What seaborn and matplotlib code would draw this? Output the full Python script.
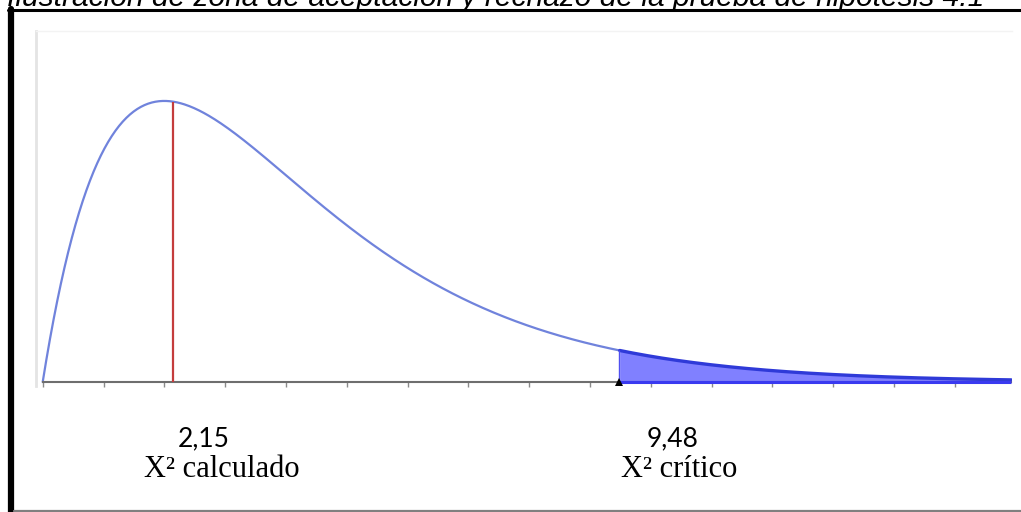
import numpy as np
import pandas as pd
import matplotlib
matplotlib.use("Agg")
import matplotlib.pyplot as plt
import seaborn as sns
from matplotlib.lines import Line2D

# ---- data ----
degrees_of_freedom = 4
chi2_calculated = 2.15
chi2_critical = 9.48
x_start, x_end = 0.0, 15.93
tick_positions = list(range(0, 16))
label_calc_value = "2,15"
label_calc_text = "X² calculado"
label_crit_value = "9,48"
label_crit_text = "X² crítico"
title_text = "Ilustración de zona de aceptación y rechazo de la prueba de hipótesis 4.1"


def chi2_pdf(x, k):
    from math import gamma
    x = np.asarray(x, dtype=float)
    return np.where(x > 0, x ** (k / 2 - 1) * np.exp(-x / 2) / (2 ** (k / 2) * gamma(k / 2)), 0.0)


xs = np.linspace(x_start, x_end, 800)
df_curve = pd.DataFrame({"x": xs, "density": chi2_pdf(xs, degrees_of_freedom)})
df_tail = df_curve[df_curve["x"] >= chi2_critical]
df_body = df_curve[df_curve["x"] <= chi2_critical]

sns.set_style("white")

W, H = 1021, 512
fig = plt.figure(figsize=(W / 100, H / 100), dpi=100)

# axes placement in pixels
px_left, px_right, px_top, px_bottom = 36, 1012, 31, 386
ax = fig.add_axes([px_left / W, (H - px_bottom) / H, (px_right - px_left) / W, (px_bottom - px_top) / H])

x0_px, unit_px = 42.7, 60.8
base_px, yscale = 382, 1528.0
ax.set_xlim((px_left - x0_px) / unit_px, (px_right - x0_px) / unit_px)
ax.set_ylim((base_px - px_bottom) / yscale, (base_px - px_top) / yscale)

# body curve
sns.lineplot(data=df_body, x="x", y="density", ax=ax, color="#7083dc", linewidth=1.6)
# tail fill
ax.fill_between(df_tail["x"], df_tail["density"], 0, color="#8080ff", linewidth=0)
sns.lineplot(data=df_tail, x="x", y="density", ax=ax, color="#2f3ad8", linewidth=2.4)
ax.hlines(0, chi2_critical, x_end, color="#3a3af0", linewidth=2.2, zorder=4)
ax.vlines(chi2_critical, 0, chi2_pdf(chi2_critical, degrees_of_freedom), color="#5050f0", linewidth=1.0)

# calculated value line
ax.vlines(chi2_calculated, 0, chi2_pdf(chi2_calculated, degrees_of_freedom), color="#c43c3c", linewidth=1.6, zorder=5)

# critical marker
ax.plot([chi2_critical], [0], marker="^", color="black", markersize=6, clip_on=False, zorder=6,
        markeredgewidth=0)

# spines / baseline
for s in ["right"]:
    ax.spines[s].set_visible(False)
ax.spines["left"].set_color("#e4e4e4")
ax.spines["left"].set_linewidth(2)
ax.spines["top"].set_color("#f3f3f3")
ax.spines["top"].set_linewidth(1)
ax.spines["bottom"].set_position(("data", 0))
ax.spines["bottom"].set_bounds(x_start, x_end)
ax.spines["bottom"].set_color("#6e6e6e")
ax.spines["bottom"].set_linewidth(1.5)
ax.spines["bottom"].set_zorder(3)

ax.set_xticks(tick_positions)
ax.set_xticklabels([])
ax.set_yticks([])
ax.tick_params(axis="x", direction="out", length=3.5, width=1, color="#8a8a8a", bottom=True)
ax.set_xlabel("")
ax.set_ylabel("")


def fy(py):
    return (H - py) / H


def fx(px):
    return px / W


# labels below
fig.text(fx(204), fy(439), label_calc_value, ha="center", va="center", fontsize=19, family="Lato", color="black")
fig.text(fx(222), fy(477), label_calc_text, ha="center", va="baseline", fontsize=22, family="Liberation Serif", color="black")
fig.text(fx(673), fy(439), label_crit_value, ha="center", va="center", fontsize=19, family="Lato", color="black")
fig.text(fx(679), fy(477), label_crit_text, ha="center", va="baseline", fontsize=22, family="Liberation Serif", color="black")

# title (cut at top), auto-fit width
t = fig.text(fx(7), fy(6), title_text, ha="left", va="baseline", fontsize=18,
             family="Liberation Sans", style="italic", color="black")
fig.canvas.draw()
w = t.get_window_extent(fig.canvas.get_renderer()).width
t.set_fontsize(18 * 978 / w)

# frame lines
fig.add_artist(Line2D([fx(11), fx(11)], [fy(9), fy(512)], color="black", linewidth=4.5))
fig.add_artist(Line2D([fx(8), fx(1021)], [fy(10), fy(10)], color="black", linewidth=2.2))
fig.add_artist(Line2D([fx(14), fx(1021)], [fy(511), fy(511)], color="#808080", linewidth=1.6))

fig.savefig("out.png", dpi=100)
